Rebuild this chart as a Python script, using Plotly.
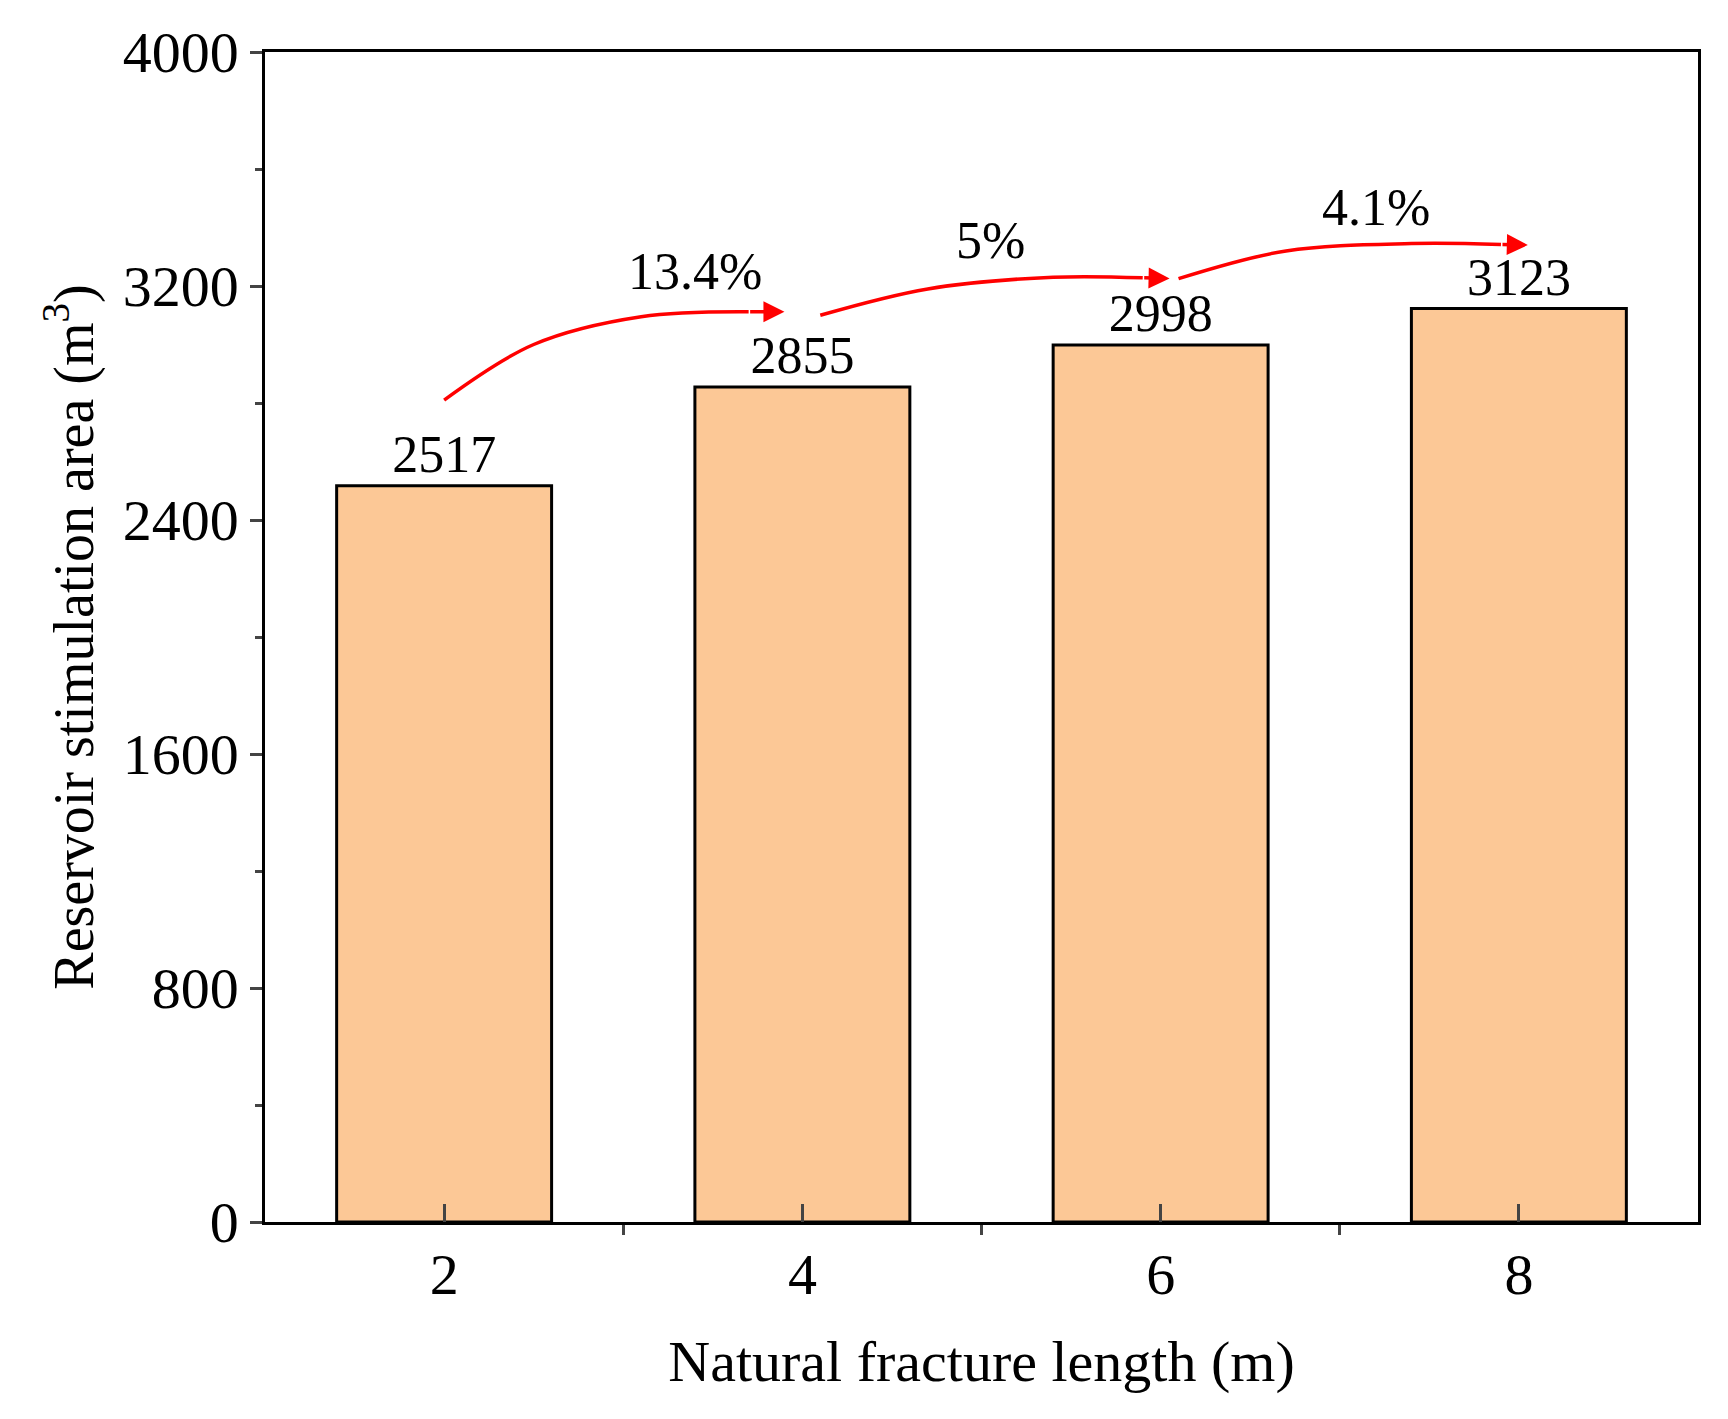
import plotly.graph_objects as go

lengths = [2, 4, 6, 8]
areas = [2517, 2855, 2998, 3123]
growth_labels = ["13.4%", "5%", "4.1%"]

# curved arrow paths between bars (data coords)
arrow_x = [[2.0, 2.5, 3.1, 3.7, 3.9], [4.1, 4.7, 5.4, 5.9, 6.05], [6.1, 6.7, 7.4, 7.9, 8.05]]
arrow_y = [[2810, 3000, 3095, 3112, 3112], [3100, 3190, 3230, 3228, 3226], [3225, 3320, 3345, 3342, 3340]]
label_xy = [(3.4, 3250), (5.05, 3355), (7.2, 3470)]

font = "Liberation Serif, Times New Roman, serif"

fig = go.Figure()
fig.add_trace(go.Bar(
    x=lengths, y=areas, width=1.2,
    marker=dict(color="#FCC896", line=dict(color="black", width=3)),
    text=[str(a) for a in areas], textposition="outside",
    textfont=dict(family=font, size=52, color="black"), cliponaxis=False,
))

for xs, ys in zip(arrow_x, arrow_y):
    fig.add_trace(go.Scatter(x=xs[:-1], y=ys[:-1], mode="lines",
                             line=dict(color="red", width=3.5, shape="spline")))
    fig.add_annotation(x=xs[-1], y=ys[-1], ax=xs[-2], ay=ys[-2],
                       xref="x", yref="y", axref="x", ayref="y",
                       showarrow=True, arrowhead=2, arrowsize=1.2,
                       arrowwidth=3.5, arrowcolor="red", text="")

for (lx, ly), t in zip(label_xy, growth_labels):
    fig.add_annotation(x=lx, y=ly, text=t, showarrow=False,
                       font=dict(family=font, size=52, color="black"))

fig.update_layout(
    width=1728, height=1419, showlegend=False,
    plot_bgcolor="white", paper_bgcolor="white",
    margin=dict(l=257, r=38, t=35, b=205),
    font=dict(family=font, color="black"),
    xaxis=dict(range=[1, 9], tickvals=lengths, ticks="inside", ticklen=18,
               tickwidth=2.5, showgrid=False, showline=True, linewidth=2.5,
               linecolor="black", mirror=True, tickfont=dict(size=58),
               minor=dict(tickvals=[3, 5, 7], ticks="outside", ticklen=10, tickwidth=2.5),
               title=dict(text="Natural fracture length (m)", font=dict(size=58), standoff=35)),
    yaxis=dict(range=[0, 4000], dtick=800, ticks="outside", ticklen=12,
               tickwidth=2.5, showgrid=False, showline=True, linewidth=2.5,
               linecolor="black", mirror=True, tickfont=dict(size=58),
               minor=dict(dtick=400, ticks="outside", ticklen=7, tickwidth=2.5),
               title=dict(text="Reservoir stimulation area (m<sup>3</sup>)",
                          font=dict(size=56), standoff=12)),
)

fig.write_html("out.html")
